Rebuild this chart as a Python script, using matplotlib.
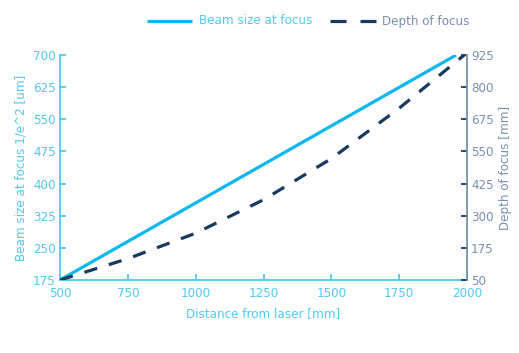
import matplotlib
matplotlib.use("Agg")
import matplotlib.pyplot as plt
from matplotlib.lines import Line2D
from matplotlib import font_manager

# pick a condensed font if any is installed
cond = None
for f in font_manager.fontManager.ttflist:
    n = f.name
    st = str(f.stretch).lower()
    if ('Condensed' in n or 'Narrow' in n or st in ('condensed', 'semi-condensed', 'extra-condensed', '75', '62.5')) and 'Mono' not in n and 'Serif' not in n:
        cond = f
        break
if cond is not None:
    fam = [cond.name, 'DejaVu Sans']
    STRETCH = cond.stretch
    FS = 9.5
else:
    fam = ['Roboto', 'DejaVu Sans']
    STRETCH = 'normal'
    FS = 8.3
plt.rcParams['font.family'] = fam
plt.rcParams['font.stretch'] = STRETCH

# Data
beam_x = [500, 1960]
beam_y = [175, 700]
dof_x = [500, 750, 1000, 1250, 1500, 1750, 1990]
dof_y = [50, 133, 232, 362, 522, 718, 925]

x_ticks = [500, 750, 1000, 1250, 1500, 1750, 2000]
left_ticks = [175, 250, 325, 400, 475, 550, 625, 700]
right_ticks = [50, 175, 300, 425, 550, 675, 800, 925]

BLUE = '#0bb8ee'
LIGHT = '#4fcaf2'
NAVY = '#173a60'
GREY = '#7890ae'

W, H = 519, 353
fig = plt.figure(figsize=(W/100, H/100), dpi=100)
ax = fig.add_axes([60/W, 1-280/H, (467-60)/W, (280-55)/H])
ax2 = ax.twinx()

ax.plot(beam_x, beam_y, color=BLUE, lw=2.3, solid_capstyle='butt', zorder=3)
ax2.plot(dof_x, dof_y, color=NAVY, lw=2.3, dashes=(4.2, 3.8))

ax.set_xlim(500, 2000)
ax.set_ylim(175, 700)
ax2.set_ylim(50, 925)
ax.set_xticks(x_ticks)
ax.set_yticks(left_ticks)
ax2.set_yticks(right_ticks)

ax.spines['top'].set_visible(False)
ax2.spines['top'].set_visible(False)
ax.spines['right'].set_visible(False)
ax2.spines['left'].set_visible(False)
ax2.spines['bottom'].set_visible(False)
ax.spines['left'].set_color(LIGHT)
ax.spines['bottom'].set_color(LIGHT)
ax2.spines['right'].set_color(GREY)
for sp in [ax.spines['left'], ax.spines['bottom'], ax2.spines['right']]:
    sp.set_linewidth(1.3)

ax.tick_params(axis='both', direction='in', length=4, width=1.3, colors=LIGHT, labelsize=FS, pad=3)
ax2.tick_params(axis='y', direction='in', length=4, width=1.3, colors=GREY, labelsize=FS, pad=3)
ax2.tick_params(axis='y', color=NAVY)
ax.tick_params(axis='x', pad=5)

ax.set_xlabel('Distance from laser [mm]', color=LIGHT, fontsize=FS, labelpad=5)
ax.set_ylabel('Beam size at focus 1/e^2 [um]', color=LIGHT, fontsize=FS, labelpad=4)
ax2.set_ylabel('Depth of focus [mm]', color=GREY, fontsize=FS, labelpad=4)

# legend drawn manually at top, laid out from the right edge
renderer = fig.canvas.get_renderer()
ly = 1 - 21/H
t2 = fig.text(470/W, ly, 'Depth of focus', color=GREY, fontsize=FS, va='center', ha='left')
w2 = t2.get_window_extent(renderer).width
x2 = 470 - w2
t2.set_x(x2/W)
h2_end = x2 - 7
h2_start = h2_end - 46
fig.add_artist(Line2D([h2_start/W, (h2_start+16)/W], [ly, ly], transform=fig.transFigure, color=NAVY, lw=2.3, solid_capstyle='butt'))
fig.add_artist(Line2D([(h2_end-16)/W, h2_end/W], [ly, ly], transform=fig.transFigure, color=NAVY, lw=2.3, solid_capstyle='butt'))
t1 = fig.text(0, ly, 'Beam size at focus', color=LIGHT, fontsize=FS, va='center', ha='left')
w1 = t1.get_window_extent(renderer).width
x1 = h2_start - 17 - w1
t1.set_x(x1/W)
h1_end = x1 - 7
fig.add_artist(Line2D([(h1_end-45)/W, h1_end/W], [ly, ly], transform=fig.transFigure, color=BLUE, lw=2.3, solid_capstyle='butt'))

fig.savefig('out.png', dpi=100)
